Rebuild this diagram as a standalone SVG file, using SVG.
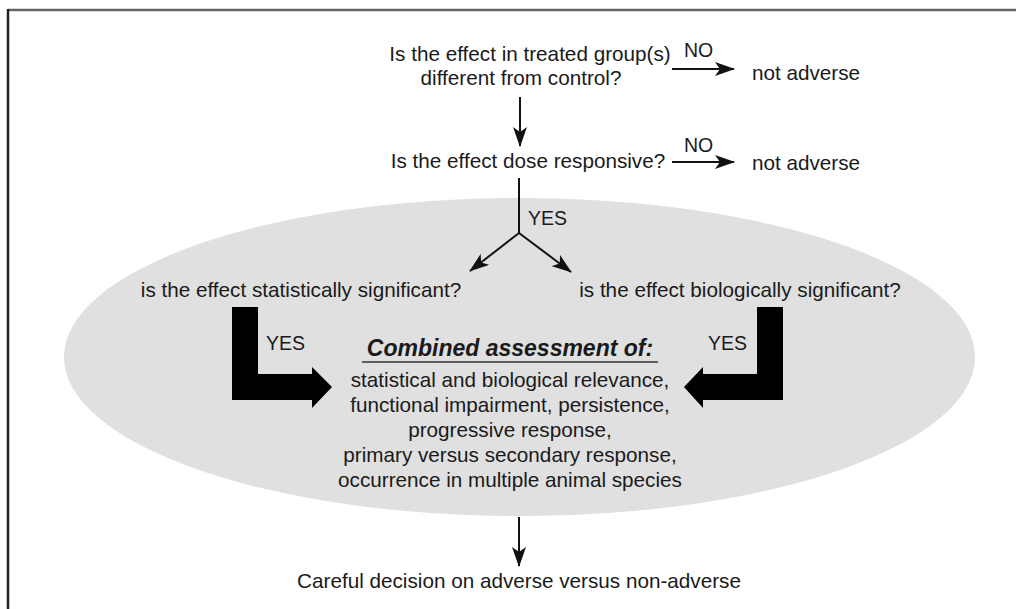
<svg xmlns="http://www.w3.org/2000/svg" width="1016" height="609" viewBox="0 0 1016 609">
<style>
text{font-family:"Liberation Sans",Arial,sans-serif;font-size:20.7px;fill:#1a1a1a}
.c{text-anchor:middle}
.s{font-size:19.5px}
.ln{stroke:#111;stroke-width:2;fill:none}
.big{fill:#000}
</style>
<defs>
<marker id="ah2" viewBox="0 0 20 14" refX="19" refY="7" markerWidth="20" markerHeight="14" markerUnits="userSpaceOnUse" orient="auto">
<path d="M0,0 L20,7 L0,14 L5,7 z" fill="#111"/>
</marker>
</defs>
<rect width="1016" height="609" fill="#fff"/>
<line x1="8" y1="10" x2="1016" y2="10" stroke="#666" stroke-width="2.5"/>
<line x1="8" y1="9" x2="8" y2="609" stroke="#222" stroke-width="2.5"/>
<g id="ellipse"><ellipse cx="519.5" cy="357" rx="455.5" ry="159" fill="#e0e0e0"/></g>
<g id="q1"><text class="c" x="530" y="61">Is the effect in treated group(s)</text><text class="c" x="521" y="85">different from control?</text></g>
<g id="na1"><text x="752" y="80">not adverse</text></g>
<g id="q2"><text class="c" x="528" y="168">Is the effect dose responsive?</text></g>
<g id="na2"><text x="752" y="170">not adverse</text></g>
<g id="qs"><text class="c" x="301" y="297">is the effect statistically significant?</text></g>
<g id="qb"><text class="c" x="740" y="297">is the effect biologically significant?</text></g>
<g id="combined">
<text class="c" x="510" y="356" style="font-weight:bold;font-style:italic;font-size:23px">Combined assessment of:</text>
<line x1="362" y1="362" x2="658" y2="362" stroke="#333" stroke-width="1.5"/>
<text class="c" x="510" y="387">statistical and biological relevance,</text>
<text class="c" x="510" y="412">functional impairment, persistence,</text>
<text class="c" x="510" y="437">progressive response,</text>
<text class="c" x="510" y="462">primary versus secondary response,</text>
<text class="c" x="510" y="487">occurrence in multiple animal species</text>
</g>
<g id="final"><text class="c" x="519" y="588">Careful decision on adverse versus non-adverse</text></g>
<g id="connectors">
<line class="ln" x1="672" y1="69" x2="734" y2="69" marker-end="url(#ah2)"/>
<text class="s" x="684" y="57">NO</text>
<line class="ln" x1="672" y1="162" x2="734" y2="162" marker-end="url(#ah2)"/>
<text class="s" x="684" y="152">NO</text>
<line class="ln" x1="520" y1="97" x2="520" y2="146" marker-end="url(#ah2)"/>
<polyline class="ln" points="519,178 519,233"/>
<text class="s" x="528" y="225">YES</text>
<line class="ln" x1="519" y1="233" x2="470" y2="271" marker-end="url(#ah2)"/>
<line class="ln" x1="519" y1="233" x2="571" y2="272" marker-end="url(#ah2)"/>
<path class="big" d="M232,307 H258 V374 H312 V367 L332,387 L312,408 V400 H232 Z"/>
<text class="s" x="266" y="350">YES</text>
<path class="big" d="M783,307 H757 V374 H703 V367 L684,387 L703,408 V400 H783 Z"/>
<text class="s" x="708" y="350">YES</text>
<line class="ln" x1="519" y1="517" x2="519" y2="566" marker-end="url(#ah2)"/>
</g>
</svg>
